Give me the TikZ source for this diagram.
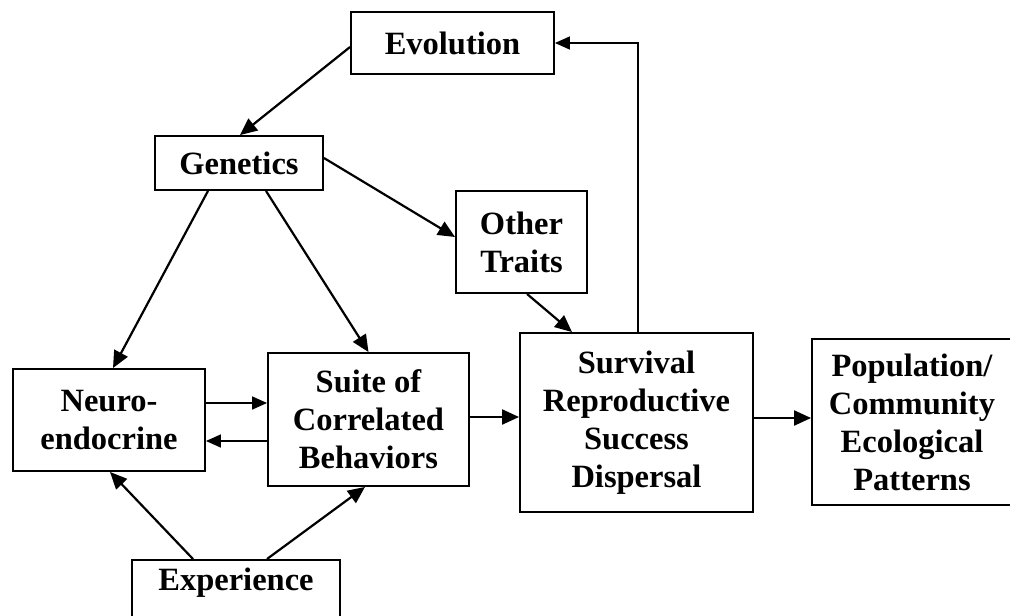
\documentclass[tikz,border=0pt]{standalone}
\usepackage{fontspec}
\setmainfont{Liberation Serif}
\usetikzlibrary{arrows.meta}
\begin{document}
\begin{tikzpicture}[x=1pt,y=-1pt,
  box/.style={draw,line width=1.9pt,inner sep=0pt,align=center,
    font=\fontsize{32.5}{38}\selectfont\bfseries},
  arr/.style={line width=2.2pt,-{Triangle[length=17pt,width=15pt]}},
  thinarr/.style={line width=1.6pt,-{Triangle[length=15pt,width=13pt]}}]
\useasboundingbox (0,0) rectangle (1010,616);
\node[box,minimum width=203pt,minimum height=62pt] (Evo) at (452.5,43) {Evolution};
\node[box,minimum width=168pt,minimum height=54pt] (Gen) at (239,163) {Genetics};
\node[box,minimum width=131pt,minimum height=102pt] (Other) at (521.5,242) {Other\\Traits};
\node[box,minimum width=192pt,minimum height=102pt] (Neuro) at (109,420) {Neuro-\\endocrine};
\node[box,minimum width=201pt,minimum height=133pt] (Suite) at (368.5,419.5) {Suite of\\Correlated\\Behaviors};
\node[box,minimum width=233pt,minimum height=179pt] (Surv) at (636.5,422.5) {Survival\\Reproductive\\Success\\Dispersal};
\node[box,minimum width=200pt,minimum height=166pt] (Pop) at (912,422) {Population/\\Community\\Ecological\\Patterns};
\node[box,minimum width=208pt,text height=22pt,text depth=26pt,inner ysep=9pt,anchor=north] (Exp) at (236,559) {Experience};
\draw[arr] ([yshift=-4pt]Evo.west) -- ([xshift=1pt]Gen.north);
\draw[arr] ([xshift=-31pt]Gen.south) -- ([xshift=4pt]Neuro.north);
\draw[arr] ([xshift=27pt]Gen.south) -- (Suite.north);
\draw[arr] ([yshift=5pt]Gen.east) -- ([yshift=5pt]Other.west);
\draw[arr] ([xshift=5.5pt]Other.south) -- ([xshift=-64.5pt]Surv.north);
\draw[thinarr] ([yshift=17pt]Neuro.east) -- ([yshift=16.5pt]Suite.west);
\draw[thinarr] ([yshift=-21.5pt]Suite.west) -- ([yshift=-21pt]Neuro.east);
\draw[arr] ([yshift=2.5pt]Suite.east) -- ([yshift=5.5pt]Surv.west);
\draw[arr] ([yshift=4.5pt]Surv.east) -- ([yshift=4pt]Pop.west);
\draw[thinarr] ([xshift=1.5pt]Surv.north) |- (Evo.east);
\draw[arr] ([xshift=-43pt]Exp.north) -- ([xshift=1pt]Neuro.south);
\draw[arr] ([xshift=31pt]Exp.north) -- ([xshift=-3.5pt]Suite.south);
\end{tikzpicture}
\end{document}
